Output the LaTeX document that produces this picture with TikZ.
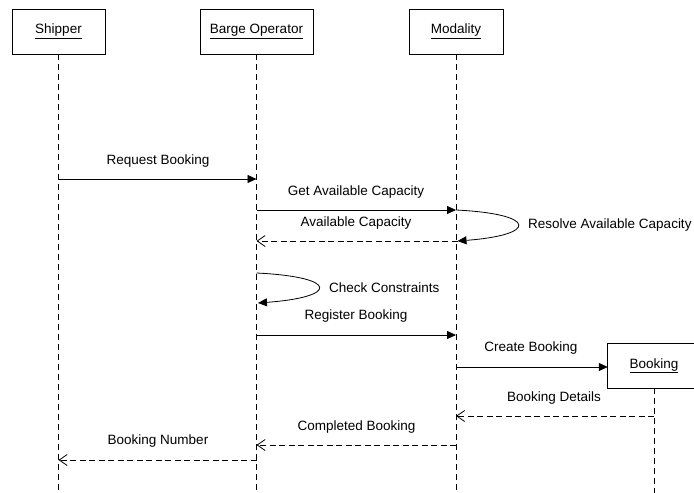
\documentclass[tikz,border=0pt]{standalone}
\usepackage{fontspec}
\setmainfont{Liberation Sans}
\usetikzlibrary{arrows.meta}
\begin{document}
\begin{tikzpicture}[x=1pt,y=-1pt,
  font=\fontsize{13.5}{16}\selectfont,
  actor/.style={draw, line width=0.8pt, minimum height=45pt, inner sep=0pt},
  lifeline/.style={line width=0.7pt, dash pattern=on 6pt off 4pt},
  call/.style={line width=0.8pt, -{Triangle[length=9pt,width=8pt]}},
  reply/.style={line width=0.8pt, dash pattern=on 6pt off 3.5pt, -{Straight Barb[length=8pt,width=11pt,line width=0.8pt]}},
  lbl/.style={inner sep=0pt, anchor=center}]
\useasboundingbox (0,0) rectangle (694,493);
\clip (0,0) rectangle (694,493);

% participants
\node[actor, minimum width=93pt]  (ship)  at (58.5,31.5) {\underline{Shipper}};
\node[actor, minimum width=113pt] (barge) at (256.5,31.5) {\underline{Barge Operator}};
\node[actor, minimum width=94pt]  (mod)   at (456,31.5) {\underline{Modality}};
% the booking object runs past the right margin
\node[minimum width=92pt, minimum height=44pt, inner sep=0pt] (book) at (654,366) {\underline{Booking}};
\draw[line width=0.8pt] ([xshift=30pt]book.north east) -- (book.north west)
  -- (book.south west) -- ([xshift=30pt]book.south east);

% lifeline ends
\coordinate (shipE)  at (ship.south |- 0,493);
\coordinate (bargeE) at (barge.south |- 0,493);
\coordinate (modE)   at (mod.south |- 0,493);
\coordinate (bookE)  at (book.south |- 0,493);
\draw[lifeline] (ship.south)  -- (shipE);
\draw[lifeline] (barge.south) -- (bargeE);
\draw[lifeline] (mod.south)   -- (modE);
\draw[lifeline] (book.south)  -- (bookE);

% message anchors on the lifelines
\coordinate (s1) at (ship.south |- 0,179);
\coordinate (b1) at (barge.south |- 0,179);
\coordinate (b2) at (barge.south |- 0,210);
\coordinate (m2) at (mod.south |- 0,210);
\coordinate (m3) at ([xshift=1.5pt]mod.south |- 0,241);
\coordinate (b3) at (barge.south |- 0,241);
\coordinate (b4) at (barge.south |- 0,273);
\coordinate (b5) at ([xshift=1.5pt]barge.south |- 0,303);
\coordinate (b6) at (barge.south |- 0,335);
\coordinate (m6) at (mod.south |- 0,335);
\coordinate (m7) at (mod.south |- 0,367);
\coordinate (k8) at (book.south |- 0,416);
\coordinate (m8) at (mod.south |- 0,416);
\coordinate (m9) at (mod.south |- 0,445);
\coordinate (b9) at (barge.south |- 0,445);
\coordinate (b10) at (barge.south |- 0,460);
\coordinate (s10) at (ship.south |- 0,460);

% messages
\draw[call]  (s1) -- (b1);
\node[lbl] (t1) at (158,161) {Request Booking};

\draw[call]  (b2) -- (m2);
\node[lbl] (t2) at (356,192) {Get Available Capacity};

\draw[call]  (m2) .. controls (538,214) and (538,235) .. (m3);
\node[lbl, anchor=west] (t3) at (528,225) {Resolve Available Capacity};

\draw[reply] (m3) -- (b3);
\node[lbl] (t4) at (356,223) {Available Capacity};

\draw[call]  (b4) .. controls (339,277) and (339,297) .. (b5);
\node[lbl, anchor=west] (t5) at (329,288) {Check Constraints};

\draw[call]  (b6) -- (m6);
\node[lbl] (t6) at (356,316) {Register Booking};

\draw[call]  (m7) -- (book.west |- m7);
\node[lbl] (t7) at (531,348) {Create Booking};

\draw[reply] (k8) -- (m8);
\node[lbl] (t8) at (554,398) {Booking Details};

\draw[reply] (m9) -- (b9);
\node[lbl] (t9) at (356.5,427) {Completed Booking};

\draw[reply] (b10) -- (s10);
\node[lbl] (t10) at (158,441) {Booking Number};
\end{tikzpicture}
\end{document}
